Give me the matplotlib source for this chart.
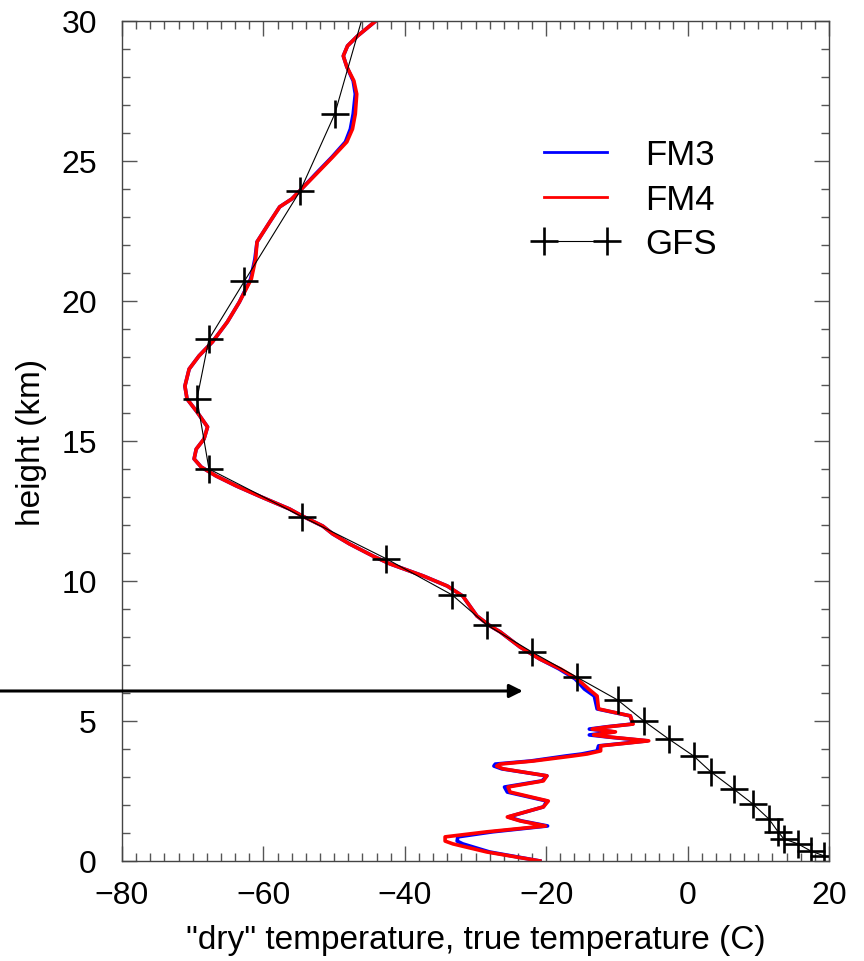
import numpy as np
import matplotlib
matplotlib.use('Agg')
import matplotlib.pyplot as plt
from matplotlib.ticker import MultipleLocator

plt.rcParams['font.family'] = ['Liberation Sans', 'DejaVu Sans']

# model profiles: height (km) and temperature (C)
z_model = [30.0, 29.46, 29.11, 28.75, 28.36, 27.86, 27.39, 26.68, 26.14, 25.68,
           25.14, 24.54, 24.0, 23.64, 23.36, 22.82, 22.11, 21.5, 20.79, 19.96,
           19.25, 18.54, 18.04, 17.57, 16.96, 16.5, 16.04, 15.5, 15.07, 14.71,
           14.36, 14.07, 13.75, 13.39, 13.0, 12.57, 12.32, 11.96, 11.68, 11.32,
           10.89, 10.61, 10.18, 9.82, 9.46, 8.75, 8.39, 8.18, 7.64, 7.21,
           6.86, 6.5, 6.14, 5.89, 5.43, 5.18, 4.89, 4.79, 4.71, 4.61,
           4.5, 4.43, 4.29, 4.21, 4.11, 3.93, 3.82, 3.75, 3.57, 3.46,
           3.39, 3.29, 3.04, 2.86, 2.64, 2.46, 2.14, 1.93, 1.57, 1.43,
           1.25, 1.04, 0.86, 0.71, 0.61, 0.32, 0.0]

t_fm4 = [-44.1, -46.7, -48.1, -48.7, -48.2, -47.2, -46.8, -47.0, -47.4, -48.2,
         -50.2, -52.5, -54.6, -56.0, -57.7, -59.1, -60.9, -61.1, -61.7, -63.4,
         -65.1, -67.2, -69.1, -70.5, -71.1, -70.8, -69.4, -67.9, -68.4, -69.5,
         -69.8, -68.8, -66.7, -63.8, -60.3, -56.3, -54.5, -51.6, -50.2, -47.8,
         -44.5, -42.1, -37.4, -34.0, -31.8, -29.8, -27.9, -26.5, -23.7, -20.9,
         -18.0, -15.6, -14.0, -12.8, -12.6, -8.1, -7.7, -11.3, -13.5, -10.2,
         -13.3, -11.2, -5.5, -8.5, -12.3, -12.3, -14.2, -16.2, -21.8, -26.5,
         -27.0, -26.1, -19.9, -20.4, -25.4, -25.1, -19.7, -20.4, -25.5, -23.7,
         -20.1, -28.4, -34.3, -34.3, -33.2, -28.4, -20.9]

t_fm3 = [-44.1, -46.7, -48.1, -48.7, -48.2, -47.3, -47.0, -47.3, -47.7, -48.4,
         -50.3, -52.6, -54.6, -56.0, -57.7, -59.1, -60.9, -61.2, -61.8, -63.4,
         -65.1, -67.2, -69.1, -70.5, -71.1, -70.8, -69.4, -67.9, -68.4, -69.5,
         -69.8, -68.8, -66.7, -63.8, -60.3, -56.3, -54.5, -51.6, -50.2, -47.8,
         -44.5, -42.1, -37.4, -34.0, -31.8, -29.8, -27.9, -26.5, -23.7, -20.9,
         -18.2, -15.9, -14.6, -13.2, -12.8, -8.1, -7.8, -11.5, -13.9, -10.4,
         -13.9, -11.4, -5.7, -8.7, -12.6, -12.8, -15.0, -17.2, -22.2, -27.2,
         -27.4, -26.3, -19.9, -20.6, -25.9, -25.5, -19.9, -20.4, -25.4, -23.5,
         -19.8, -27.6, -32.5, -32.6, -31.8, -28.0, -20.9]

# GFS profile
z_gfs = [31.0, 26.68, 23.93, 20.7, 18.64, 16.5, 14.0, 12.29, 10.79, 9.5,
         8.43, 7.46, 6.57, 5.75, 5.0, 4.36, 3.75, 3.18, 2.57, 2.04,
         1.5, 1.04, 0.79, 0.61, 0.36, 0.18]
t_gfs = [-45.0, -49.9, -54.8, -62.7, -67.7, -69.4, -67.7, -54.5, -42.6, -33.3,
         -28.4, -22.0, -15.7, -9.9, -6.2, -2.7, 0.85, 3.3, 6.5, 9.2,
         11.5, 12.8, 13.6, 15.6, 17.4, 19.3]

arrow_z = 6.07
arrow_t = (-98.0, -23.3)

fig = plt.figure(figsize=(8.64, 9.62), dpi=100)
ax = fig.add_axes([0.1412, 0.1040, 0.8183, 0.8732])

ax.plot(t_fm3, z_model, color='#0000ff', lw=2.6, label='FM3')
ax.plot(t_fm4, z_model, color='#ff0000', lw=2.6, label='FM4')
ax.plot(t_gfs, z_gfs, color='black', lw=0.8, marker='+', ms=20, mew=1.9,
        label='GFS')

ax.annotate('', xy=(arrow_t[1], arrow_z), xytext=(arrow_t[0], arrow_z),
            arrowprops=dict(arrowstyle='-|>', lw=2.2, color='black',
                            mutation_scale=20, shrinkA=0, shrinkB=0),
            annotation_clip=False)

ax.set_xlim(-80, 20)
ax.set_ylim(0, 30)
ax.xaxis.set_major_locator(MultipleLocator(20))
ax.xaxis.set_minor_locator(MultipleLocator(2))
ax.yaxis.set_major_locator(MultipleLocator(5))
ax.yaxis.set_minor_locator(MultipleLocator(1))
ax.tick_params(which='both', direction='in', top=True, right=True,
               color='#555555', width=1.0, labelsize=23)
ax.tick_params(which='major', length=11)
ax.tick_params(which='minor', length=6)
ax.tick_params(axis='x', pad=14)
ax.tick_params(axis='y', pad=18)
for s in ax.spines.values():
    s.set_color('#444444')
    s.set_linewidth(1.0)

ax.set_xlabel('"dry" temperature, true temperature (C)', fontsize=24, labelpad=10)
ax.set_ylabel('height (km)', fontsize=24, labelpad=10)

leg = ax.legend(loc='upper left', bbox_to_anchor=(0.618, 0.855),
                bbox_transform=fig.transFigure, frameon=False, fontsize=25,
                handlelength=2.4, handletextpad=0.8, labelspacing=0.33,
                borderpad=0, borderaxespad=0, numpoints=2)
for line in leg.get_lines()[:2]:
    line.set_linewidth(2.0)

fig.savefig('out.png', dpi=100)
